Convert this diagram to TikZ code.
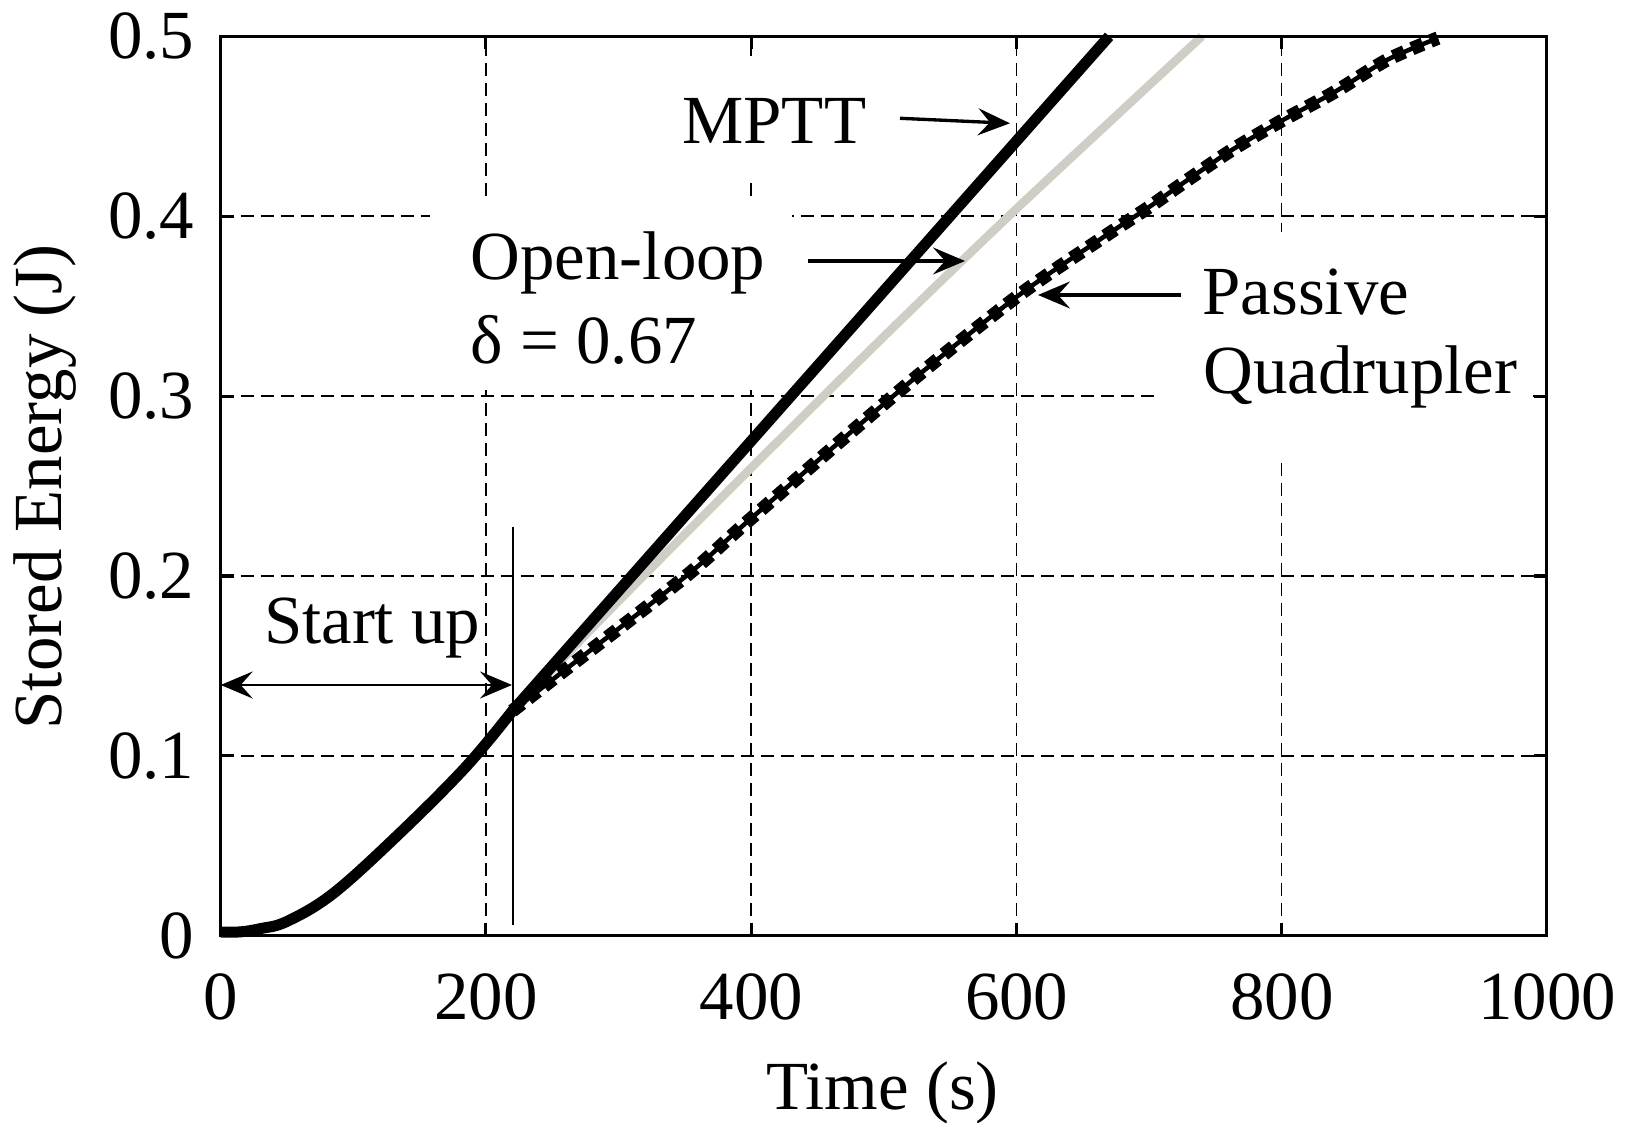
\documentclass[tikz,border=0pt]{standalone}
\usepackage{fontspec}
\setmainfont{Liberation Serif}
\usetikzlibrary{arrows.meta}
\definecolor{olgray}{RGB}{208,204,198}
\begin{document}
\begin{tikzpicture}[
  lbl/.style={inner sep=0pt, font=\fontsize{19.6pt}{23.5pt}\selectfont},
  gridline/.style={line width=0.45pt, dash pattern=on 0.13cm off 0.07cm},
  axisframe/.style={line width=0.9pt},
  tickmark/.style={line width=0.9pt},
  maskbox/.style={fill=white, draw=none},
  annarrow/.style={line width=0.95pt, -{Stealth[length=0.32cm, width=0.27cm, inset=0.12cm]}},
  dblarrow/.style={line width=0.65pt, {Stealth[length=0.32cm, width=0.27cm, inset=0.12cm]}-{Stealth[length=0.32cm, width=0.27cm, inset=0.12cm]}},
  thinline/.style={line width=0.65pt},
  mpttcurve/.style={line width=0.11cm, line join=round},
  olcurve/.style={line width=0.085cm, draw=olgray, line join=round},
  pqcore/.style={line width=0.045cm},
  pqbeads/.style={line width=0.135cm, dash pattern=on 0.12cm off 0.08cm}
]
\useasboundingbox (0,0) rectangle (16.25,11.23);
\fill[white] (0,0) rectangle (16.25,11.23);

% grid
\begin{scope}[shift={(2.207,1.872)}, x=0.013266cm, y=17.99cm]
  \foreach \t in {200,400,600,800} \draw[gridline] (\t,0) -- (\t,0.5);
  \foreach \e in {0.1,0.2,0.3,0.4} \draw[gridline] (0,\e) -- (1000,\e);
\end{scope}

% white boxes behind the labels
\fill[maskbox] (4.30,7.33) rectangle (7.92,9.23);
\fill[maskbox] (6.42,9.42) rectangle (8.98,10.65);
\fill[maskbox] (11.60,6.61) rectangle (15.33,8.91);

\begin{scope}[shift={(2.207,1.872)}, x=0.013266cm, y=17.99cm]
  % open-loop (grey)
  \draw[olcurve] plot[smooth, tension=0.5] coordinates {(220,0.125) (300,0.186) (400,0.260) (500,0.333) (600,0.404) (740,0.5)};
  % passive quadrupler
  \draw[pqcore] plot[smooth, tension=0.5] coordinates {(220,0.125) (260,0.148) (351,0.2) (400,0.232) (512,0.303) (600,0.355) (663,0.387) (700,0.405) (725,0.418) (763,0.437) (800,0.453) (840,0.469) (880,0.487) (918,0.499)};
  \draw[pqbeads] plot[smooth, tension=0.5] coordinates {(220,0.125) (260,0.148) (351,0.2) (400,0.232) (512,0.303) (600,0.355) (663,0.387) (700,0.405) (725,0.418) (763,0.437) (800,0.453) (840,0.469) (880,0.487) (918,0.499)};
  % MPTT
  \draw[mpttcurve] plot[smooth, tension=0.6] coordinates {(0,0.002) (15,0.0022) (30,0.004) (50,0.008) (85,0.0236) (135,0.057) (185,0.094) (220,0.125)} -- (670,0.5);
  % ticks
  \foreach \t in {200,400,600,800} {
    \draw[tickmark] (\t,0) -- ++(0,0.13cm);
    \draw[tickmark] (\t,0.5) -- ++(0,-0.13cm);
  }
  \foreach \e in {0.1,0.2,0.3,0.4} {
    \draw[tickmark] (0,\e) -- ++(0.13cm,0);
    \draw[tickmark] (1000,\e) -- ++(-0.13cm,0);
  }
  % frame
  \draw[axisframe] (0,0) rectangle (1000,0.5);
\end{scope}

% tick labels
\foreach \v/\xx [count=\i] in {0/2.207, 200/4.860, 400/7.513, 600/10.167, 800/12.820, 1000/15.473}
  \node[lbl, anchor=base] (xtick\i) at (\xx,1.03) {\v};
\foreach \v/\yy [count=\i] in {0/1.872, 0.1/3.671, 0.2/5.470, 0.3/7.269, 0.4/9.068, 0.5/10.867}
  \node[lbl, anchor=east] (ytick\i) at (1.95,\yy) {\v};

% axis titles
\node[lbl, anchor=base] (xlabel) at (8.825,0.13) {Time (s)};
\node[lbl, anchor=base, rotate=90] (ylabel) at (0.62,6.36) {Stored Energy (J)};

% labels
\node[lbl, anchor=base west] (startup) at (2.633,4.797) {Start up};
\node[lbl, anchor=base west] (mptt) at (6.817,9.797) {MPTT};
\node[lbl, anchor=base west] (openloop) at (4.70,8.43) {Open-loop};
\node[lbl, anchor=base west] (delta) at (4.70,7.597) {δ = 0.67};
\node[lbl, anchor=base west] (passive) at (12.017,8.08) {Passive};
\node[lbl, anchor=base west] (quad) at (12.03,7.297) {Quadrupler};

% start-up marker and arrows
\coordinate (suTop) at (5.127,5.963);
\coordinate (suBot) at (5.127,1.98);
\draw[thinline] (suTop) -- (suBot);
\coordinate (suL) at (2.207,4.38);
\coordinate (suR) at (5.12,4.38);
\draw[dblarrow] (suL) -- (suR);

\coordinate (mpttA) at (9.00,10.047);
\coordinate (mpttB) at (10.10,9.997);
\draw[annarrow] (mpttA) -- (mpttB);

\coordinate (olA) at (8.08,8.62);
\coordinate (olB) at (9.65,8.62);
\draw[annarrow] (olA) -- (olB);

\coordinate (pqA) at (11.81,8.28);
\coordinate (pqB) at (10.38,8.28);
\draw[annarrow] (pqA) -- (pqB);
\end{tikzpicture}
\end{document}
